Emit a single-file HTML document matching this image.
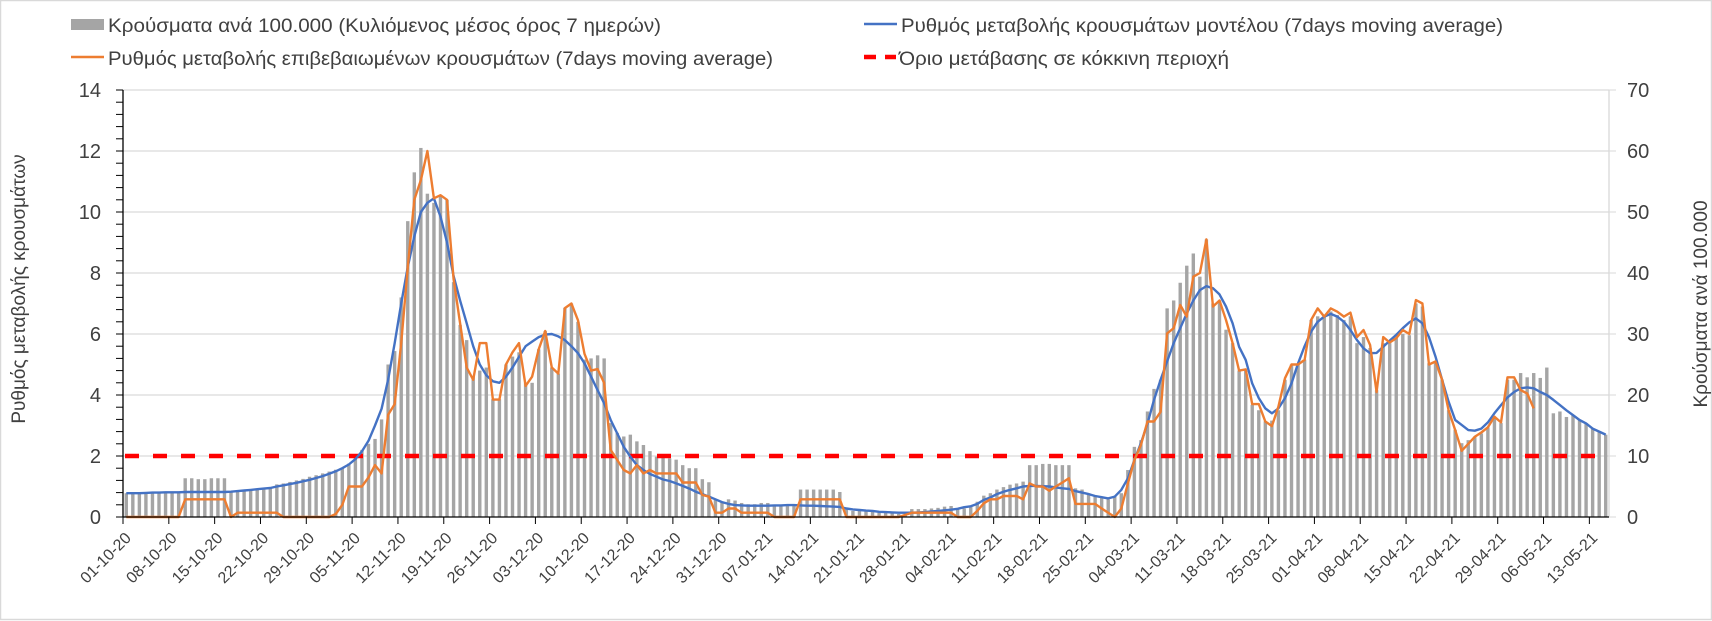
<!DOCTYPE html>
<html><head><meta charset="utf-8"><style>
html,body{margin:0;padding:0;background:#fff;}
svg{display:block;font-family:"Liberation Sans",Arial,sans-serif;}
</style></head><body>
<svg id="chart" width="1712" height="621" viewBox="0 0 1712 621" xmlns="http://www.w3.org/2000/svg">
<rect x="0.5" y="0.5" width="1711" height="619" fill="#fff" stroke="#d9d9d9" stroke-width="1.5"/>
<g id="grid"></g>
<g id="bars"></g>
<g id="lines"></g>
<g id="axes"></g>
<g font-size="19" fill="#404040">
  <g>
    <rect x="71" y="19" width="33" height="11" fill="#a5a5a5"/>
    <text x="108" y="32" textLength="553" lengthAdjust="spacingAndGlyphs">Κρούσματα ανά 100.000 (Κυλιόμενος μέσος όρος 7 ημερών)</text>
  </g>
  <g>
    <line x1="71" y1="57" x2="104" y2="57" stroke="#ed7d31" stroke-width="2.5"/>
    <text x="108" y="65" textLength="665" lengthAdjust="spacingAndGlyphs">Ρυθμός μεταβολής επιβεβαιωμένων κρουσμάτων (7days moving average)</text>
  </g>
  <g>
    <line x1="864" y1="24" x2="897" y2="24" stroke="#4472c4" stroke-width="2.5"/>
    <text x="901" y="32" textLength="602" lengthAdjust="spacingAndGlyphs">Ρυθμός μεταβολής κρουσμάτων μοντέλου (7days moving average)</text>
  </g>
  <g>
    <line x1="864" y1="57" x2="896" y2="57" stroke="#ff0000" stroke-width="4.5" stroke-dasharray="12,9"/>
    <text x="899" y="65" textLength="330" lengthAdjust="spacingAndGlyphs">Όριο μετάβασης σε κόκκινη περιοχή</text>
  </g>
</g>
<text transform="translate(25,289) rotate(-90)" text-anchor="middle" font-size="19" fill="#404040">Ρυθμός μεταβολής κρουσμάτων</text>
<text transform="translate(1707,304) rotate(-90)" text-anchor="middle" font-size="19" fill="#404040">Κρούσματα ανά 100.000</text>
</svg>
<script>
const startDate = [2020, 10, 1];
const dayCount = 227;
const leftTicks = [0, 2, 4, 6, 8, 10, 12, 14];
const rightTicks = [0, 10, 20, 30, 40, 50, 60, 70];
const thresholdValue = [2];
const casesPer100k = [
3.9,3.9,3.9,3.9,3.9,3.9,3.9,3.9,3.9,
6.35,6.35,6.2,6.2,6.35,6.35,6.35,
4.15,4.3,4.4,4.5,4.6,4.7,4.8,
5.35,5.5,5.75,6,6.25,6.6,6.85,7.15,
7.45,7.75,8,8.75,9.75,11,12,12.8,16,25,27.2,36,48.5,56.5,60.5,53,51.5,52.5,52,38.5,31.5,29,23,24,24.5,19.3,19.3,
25,26.3,27,22,22,27.5,30.5,24.5,23.5,34.3,35,32,25.8,26,26.5,26,15.4,13.8,13.2,13.5,12.4,11.8,10.8,9.9,9.9,9.6,9.4,8.5,8,8,6.2,5.7,2.8,2.5,2.9,2.7,2.3,2.1,2.1,2.3,2.3,1.8,1.8,1.8,1.8,4.5,4.5,4.5,4.5,4.5,4.5,4.1,1.3,1,1,1,
0.9,0.7,0.7,0.6,0.5,0.6,1.3,1.3,1.3,1.4,1.5,1.7,1.8,1.4,1.4,1.8,2.5,3.5,3.9,4.5,4.9,5.3,5.5,5.8,8.5,8.5,8.7,8.7,8.5,8.5,8.5,4.7,4.5,3.9,3.5,3.1,2.9,3.4,3.9,7.7,11.5,12.6,17.3,21,22.5,34.2,35.5,38.4,41.2,43.2,39.4,45.5,35,35.5,30.7,28.5,24,
24,18.4,17.5,15.7,15.8,17.5,22.5,25,25,25.8,32.3,32.9,32.9,33.7,33.1,32.3,32.9,28.5,29.5,27.7,20.8,28.5,28.5,29.3,30,29.8,35,34.5,25.2,25.2,22.5,17.5,14.3,12.1,12.6,13.2,13.7,14.7,16.2,15.4,22.5,22.5,23.6,22.9,23.6,22.8,24.5,17,17.3,16.4,16.7,15.9,15.4,14.5,14,13.5
];
const modelRate = [
0.78,0.78,0.78,0.79,0.8,0.8,0.81,0.81,0.81,
0.82,0.82,0.82,0.82,0.82,0.82,0.82,
0.83,0.85,0.87,0.89,0.91,0.93,0.95,
1.0,1.04,1.08,1.12,1.17,1.22,1.28,1.34,
1.42,1.5,1.6,1.72,1.9,2.15,2.5,
3.0,3.55,4.5,5.7,7.0,8.2,9.2,10.0,10.3,10.45,9.85,9.0,7.9,7.1,6.35,5.6,5.0,4.65,4.45,4.4,
4.6,4.9,5.25,5.6,5.75,5.9,5.98,6.0,5.92,5.8,5.6,5.37,5.04,4.6,4.16,3.73,3.18,2.74,2.3,1.98,1.7,1.54,1.41,1.32,1.23,1.18,1.1,1.02,0.93,0.83,0.75,0.67,0.58,0.49,0.43,0.39,0.38,0.37,0.37,0.37,0.37,0.38,0.38,0.39,0.39,0.38,0.37,0.37,0.36,0.35,0.34,0.33,0.28,0.25,0.23,0.21,
0.2,0.17,0.16,0.15,0.14,0.14,0.14,0.15,0.16,0.18,0.2,0.22,0.24,0.27,0.32,0.35,0.43,0.56,0.64,0.75,0.83,0.89,0.94,1.0,1.02,1.02,1.01,1.0,0.97,0.94,0.92,0.85,0.8,0.75,0.69,0.65,0.61,0.67,0.89,1.27,1.87,2.42,3.07,3.84,4.5,5.1,5.7,6.19,6.68,7.1,7.44,7.57,7.5,7.3,6.9,6.35,5.58,
5.15,4.38,3.9,3.56,3.4,3.56,3.9,4.38,5.04,5.6,6.08,6.4,6.57,6.66,6.57,6.4,6.13,5.8,5.53,5.37,5.38,5.58,5.78,5.97,6.19,6.38,6.51,6.35,5.9,5.26,4.5,3.78,3.18,3.02,2.85,2.83,2.9,3.1,3.4,3.67,3.92,4.1,4.22,4.25,4.22,4.1,4.0,3.84,3.67,3.5,3.34,3.18,3.07,2.9,2.8,2.7
];
const confirmedRate = [
0,0,0,0,0,0,0,0,0,
0.58,0.58,0.58,0.58,0.58,0.58,0.58,
0,0.14,0.14,0.14,0.14,0.14,0.14,0.14,
0,0,0,0,0,0,0,0,
0.1,0.4,1.0,1.0,1.0,1.3,1.7,1.43,3.35,3.7,5.7,8.2,10.4,11.05,12.0,10.45,10.55,10.4,7.8,6.35,4.9,4.5,5.7,5.7,3.85,3.85,
5.0,5.4,5.7,4.3,4.6,5.5,6.1,4.9,4.7,6.85,7.0,6.45,5.35,4.8,4.85,4.4,2.2,1.87,1.54,1.43,1.7,1.43,1.54,1.43,1.43,1.43,1.43,1.13,1.13,1.13,0.72,0.67,0.14,0.14,0.28,0.28,0.14,0.14,0.14,0.14,0.14,0,0,0,0,0.58,0.58,0.58,0.58,0.58,0.58,0.58,0,0,0,0,
0,0,0,0,0,0.07,0.14,0.14,0.14,0.14,0.14,0.14,0.14,0,0,0,0.2,0.45,0.58,0.58,0.69,0.69,0.69,0.58,1.1,1.0,1.0,0.86,1.0,1.13,1.27,0.43,0.43,0.43,0.43,0.28,0.14,0,0.28,1.1,1.87,2.36,3.13,3.13,3.45,6.02,6.19,6.95,6.57,7.88,8.0,9.1,6.9,7.1,6.46,5.7,4.8,
4.84,3.7,3.7,3.13,2.98,3.62,4.55,5.0,5.0,5.15,6.46,6.84,6.57,6.84,6.73,6.57,6.7,5.9,6.13,5.64,4.1,5.9,5.72,5.86,6.13,6.0,7.11,7.0,5.0,5.1,4.5,3.5,2.85,2.17,2.4,2.63,2.77,2.94,3.29,3.1,4.58,4.58,4.16,4.05,3.56
];

const NS = "http://www.w3.org/2000/svg";
const plotL = 123, plotR = 1609, plotB = 517, plotT = 90;
const dayW = (plotR - plotL) / dayCount;
const leftMax = leftTicks[leftTicks.length - 1];
const rightMax = rightTicks[rightTicks.length - 1];
function xBound(i) { return plotL + i * dayW; }
function xCenter(i) { return plotL + (i + 0.5) * dayW; }
function yLeft(v) { return plotB - v / leftMax * (plotB - plotT); }
function yRight(v) { return plotB - v / rightMax * (plotB - plotT); }
function mk(tag, attrs, parent) {
  const e = document.createElementNS(NS, tag);
  for (const k in attrs) e.setAttribute(k, attrs[k]);
  parent.appendChild(e);
  return e;
}
function pad(n) { return (n < 10 ? "0" : "") + n; }
function dateLabel(d) {
  const dt = new Date(Date.UTC(startDate[0], startDate[1] - 1, startDate[2] + d));
  return pad(dt.getUTCDate()) + "-" + pad(dt.getUTCMonth() + 1) + "-" + String(dt.getUTCFullYear()).slice(2);
}
const grid = document.getElementById("grid");
const bars = document.getElementById("bars");
const lines = document.getElementById("lines");
const axes = document.getElementById("axes");

leftTicks.forEach(function (t) {
  if (t === 0) return;
  const g = mk("line", {x1: plotL, x2: plotR, y1: yLeft(t), y2: yLeft(t), stroke: "#d9d9d9", "stroke-width": 1.3}, grid);
  
  
});

casesPer100k.forEach(function (v, i) {
  const h = plotB - yRight(v);
  const r = mk("rect", {x: xCenter(i) - 1.7, y: yRight(v), width: 3.4, height: h, fill: "#a5a5a5"}, bars);
  
  
});

const thr = mk("line", {x1: plotL + 2, x2: 1596, y1: yLeft(thresholdValue[0]), y2: yLeft(thresholdValue[0]), stroke: "#ff0000", "stroke-width": 4.5, "stroke-dasharray": "14,14"}, lines);



function pathFrom(arr) {
  let d = "";
  arr.forEach(function (v, i) {
    if (v === null || v === undefined) return;
    d += (d ? "L" : "M") + xCenter(i).toFixed(1) + "," + yLeft(v).toFixed(1);
  });
  return d;
}
const blue = mk("path", {d: pathFrom(modelRate), fill: "none", stroke: "#4472c4", "stroke-width": 2.4, "stroke-linejoin": "round"}, lines);


const orange = mk("path", {d: pathFrom(confirmedRate), fill: "none", stroke: "#ed7d31", "stroke-width": 2.4, "stroke-linejoin": "round"}, lines);



const la = mk("line", {x1: plotL, x2: plotL, y1: plotT, y2: plotB, stroke: "#000", "stroke-width": 1.3}, axes);


const ra = mk("line", {x1: plotR, x2: plotR, y1: plotT, y2: plotB, stroke: "#d9d9d9", "stroke-width": 1.3}, axes);


const ba = mk("line", {x1: plotL, x2: plotR, y1: plotB, y2: plotB, stroke: "#000", "stroke-width": 1.3}, axes);



for (let k = 0; k <= 35; k++) {
  const v = k * 0.4;
  const major = k % 5 === 0;
  const tk = mk("line", {x1: plotL - 7, x2: plotL, y1: yLeft(v), y2: yLeft(v), stroke: "#000", "stroke-width": 1}, axes);
  
  
}
leftTicks.forEach(function (t) {
  const tx = mk("text", {x: 101, y: yLeft(t) + 7, "text-anchor": "end", "font-size": 20, fill: "#404040"}, axes);
  tx.textContent = String(t);
  
  
});
rightTicks.forEach(function (t) {
  const tk = mk("line", {x1: plotR, x2: plotR + 7, y1: yRight(t), y2: yRight(t), stroke: "#d9d9d9", "stroke-width": 1}, axes);
  
  
  const tx = mk("text", {x: 1627, y: yRight(t) + 7, "text-anchor": "start", "font-size": 20, fill: "#404040"}, axes);
  tx.textContent = String(t);
  
  
});
for (let d = 0; d < dayCount; d += 7) {
  const x = xBound(d);
  const tk = mk("line", {x1: x, x2: x, y1: plotB, y2: plotB + 7, stroke: "#000", "stroke-width": 1}, axes);
  
  
  const tx = mk("text", {transform: "translate(" + (x + 9) + "," + (plotB + 22) + ") rotate(-45)", "text-anchor": "end", "font-size": 16, fill: "#404040", textLength: 64, lengthAdjust: "spacingAndGlyphs"}, axes);
  tx.textContent = dateLabel(d);
  
  
}
</script>
</body></html>
